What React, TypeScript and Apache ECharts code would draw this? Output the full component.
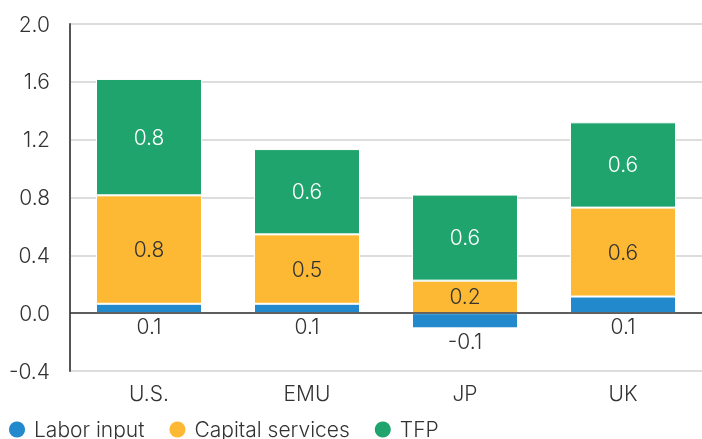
import React, { useEffect, useRef } from "react";
import * as echarts from "echarts";

const categories = ["U.S.", "EMU", "JP", "UK"];
const laborInput = [0.065, 0.065, -0.105, 0.115];
const capitalServices = [0.75, 0.48, 0.225, 0.615];
const tfp = [0.805, 0.59, 0.595, 0.59];
const yTicks = { min: -0.4, max: 2.0, interval: 0.4 };

const FONT = "Inter, 'Noto Sans', sans-serif";
const FS = 21;
const FW = 300;
const fmt = (v: number) => (Math.round(v * 10) / 10).toFixed(1);

export default function App() {
  const ref = useRef<HTMLDivElement>(null);
  useEffect(() => {
    if (!ref.current) return;
    const chart = echarts.init(ref.current, undefined, { renderer: "svg" });
    const labelBase = {
      show: true,
      fontFamily: FONT,
      fontSize: FS,
      fontWeight: FW,
      formatter: (p: any) => fmt(p.value),
    };
    chart.setOption({
      animation: false,
      textStyle: { fontFamily: FONT },
      grid: { left: 70, top: 24, width: 640, height: 347 },
      legend: {
        left: 4,
        top: 414,
        icon: "circle",
        itemWidth: 24,
        itemHeight: 16,
        itemGap: 25,
        itemStyle: { borderWidth: 0 },
        textStyle: { fontFamily: FONT, fontSize: FS, fontWeight: FW, color: "#333" },
        data: ["Labor input", "Capital services", "TFP"],
      },
      xAxis: {
        type: "category",
        data: categories,
        axisLine: { show: false },
        axisTick: { show: false },
        axisLabel: { fontFamily: FONT, fontSize: FS, fontWeight: FW, color: "#333", margin: 12 },
      },
      yAxis: {
        type: "value",
        min: yTicks.min,
        max: yTicks.max,
        interval: yTicks.interval,
        axisLine: { show: true, lineStyle: { color: "#555", width: 2 } },
        axisTick: { show: false },
        axisLabel: {
          fontFamily: FONT,
          fontSize: FS,
          fontWeight: FW,
          color: "#333",
          margin: 20,
          formatter: (v: number) => v.toFixed(1),
        },
        splitLine: { lineStyle: { color: "#d2d2d2", width: 1.5 } },
      },
      series: [
        {
          name: "Labor input",
          type: "bar",
          stack: "total",
          barWidth: 106,
          data: laborInput,
          itemStyle: { color: "#2189CC", borderColor: "#fff", borderWidth: 1 },
          label: { ...labelBase, position: "bottom", distance: 3, color: "#333" },
          markLine: {
            silent: true,
            symbol: "none",
            label: { show: false },
            lineStyle: { color: "#333", width: 1.5, type: "solid" },
            data: [{ yAxis: 0 }],
          },
        },
        {
          name: "Capital services",
          type: "bar",
          stack: "total",
          barWidth: 106,
          data: capitalServices,
          itemStyle: { color: "#FDB933", borderColor: "#fff", borderWidth: 1 },
          label: { ...labelBase, position: "inside", color: "#333" },
        },
        {
          name: "TFP",
          type: "bar",
          stack: "total",
          barWidth: 106,
          data: tfp,
          itemStyle: { color: "#20A46E", borderColor: "#fff", borderWidth: 1 },
          label: { ...labelBase, position: "inside", color: "#fff" },
        },
      ],
    });
    return () => chart.dispose();
  }, []);
  return (
    <div
      ref={ref}
      style={{ position: "fixed", left: 0, top: 0, width: 702, height: 439 }}
    />
  );
}
